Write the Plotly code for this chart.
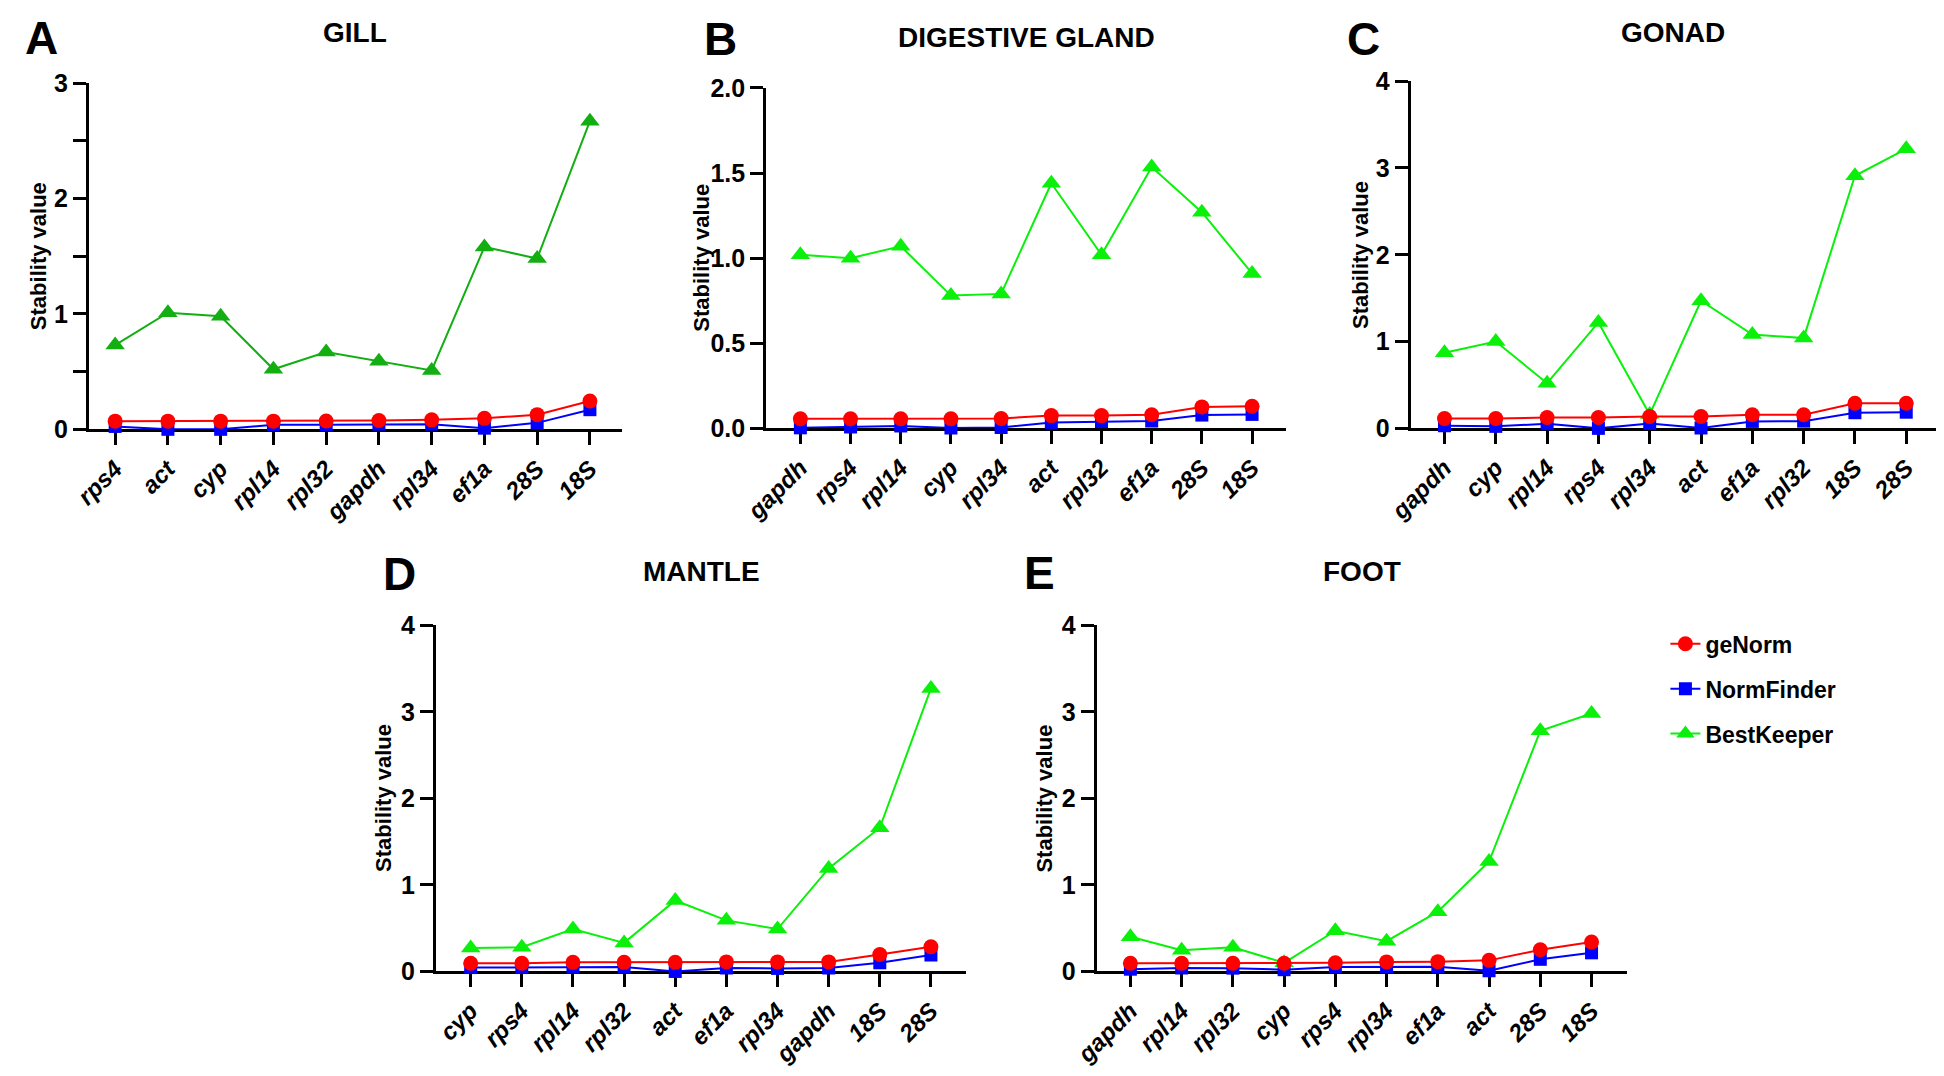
import plotly.graph_objects as go

# page is 1944x1076; the default HTML body margin (8px) offsets the figure
PAGE_W, PAGE_H = 1944, 1076
OFF = 8
W, H = PAGE_W - 2 * OFF, PAGE_H - 2 * OFF


def px2x(x):
    return min(1.0, max(0.0, (x - OFF) / W))


def px2y(y):
    return min(1.0, max(0.0, 1 - (y - OFF) / H))


# ---------------- data ----------------
gill_genes = ["rps4", "act", "cyp", "rpl14", "rpl32", "gapdh", "rpl34", "ef1a", "28S", "18S"]
gill_genorm = [0.071, 0.071, 0.071, 0.071, 0.072, 0.077, 0.082, 0.095, 0.127, 0.245]
gill_normfinder = [0.025, 0.0, 0.0, 0.04, 0.04, 0.045, 0.045, 0.01, 0.056, 0.17]
gill_bestkeeper = [0.73, 1.01, 0.98, 0.52, 0.67, 0.59, 0.51, 1.58, 1.48, 2.67]

dg_genes = ["gapdh", "rps4", "rpl14", "cyp", "rpl34", "act", "rpl32", "ef1a", "28S", "18S"]
dg_genorm = [0.056, 0.056, 0.056, 0.056, 0.058, 0.075, 0.075, 0.08, 0.126, 0.13]
dg_normfinder = [0.003, 0.008, 0.014, 0.002, 0.005, 0.035, 0.04, 0.043, 0.078, 0.082]
dg_bestkeeper = [1.02, 1.0, 1.07, 0.78, 0.79, 1.44, 1.02, 1.535, 1.27, 0.91]

gonad_genes = ["gapdh", "cyp", "rpl14", "rps4", "rpl34", "act", "ef1a", "rpl32", "18S", "28S"]
gonad_genorm = [0.114, 0.114, 0.125, 0.125, 0.137, 0.137, 0.156, 0.156, 0.29, 0.29]
gonad_normfinder = [0.03, 0.023, 0.053, 0.0, 0.057, 0.004, 0.08, 0.083, 0.18, 0.186]
gonad_bestkeeper = [0.87, 1.0, 0.52, 1.22, 0.16, 1.47, 1.08, 1.04, 2.91, 3.22]

mantle_genes = ["cyp", "rps4", "rpl14", "rpl32", "act", "ef1a", "rpl34", "gapdh", "18S", "28S"]
mantle_genorm = [0.094, 0.094, 0.105, 0.105, 0.105, 0.11, 0.11, 0.11, 0.195, 0.285]
mantle_normfinder = [0.045, 0.045, 0.05, 0.05, 0.0, 0.04, 0.035, 0.04, 0.10, 0.19]
mantle_bestkeeper = [0.27, 0.28, 0.49, 0.33, 0.82, 0.59, 0.49, 1.19, 1.66, 3.27]

foot_genes = ["gapdh", "rpl14", "rpl32", "cyp", "rps4", "rpl34", "ef1a", "act", "28S", "18S"]
foot_genorm = [0.094, 0.094, 0.094, 0.094, 0.10, 0.11, 0.113, 0.128, 0.25, 0.34]
foot_normfinder = [0.026, 0.04, 0.038, 0.02, 0.05, 0.055, 0.055, 0.008, 0.14, 0.215]
foot_bestkeeper = [0.40, 0.245, 0.28, 0.10, 0.47, 0.35, 0.69, 1.27, 2.78, 2.98]

panel_titles = ["GILL", "DIGESTIVE GLAND", "GONAD", "MANTLE", "FOOT"]
panel_letters = ["A", "B", "C", "D", "E"]
method_names = ["geNorm", "NormFinder", "BestKeeper"]
y_title = "Stability value"

# ---------------- styling / layout ----------------
RED, BLUE = "#FF0000", "#0000FF"
GREEN_DARK, GREEN = "#12AE12", "#0AF00A"
SANS = "Liberation Sans, Arial, sans-serif"

panels = [
    dict(genes=gill_genes, vals=(gill_genorm, gill_normfinder, gill_bestkeeper),
         px=(65.5, 605), py=(428, 71), xr=(-0.5, 9.6), yr=(0, 3), dtick=1, minor=0.5,
         fmt="d", green=GREEN_DARK, ytx=14, letter=(18, 24), ttl_y=19),
    dict(genes=dg_genes, vals=(dg_genorm, dg_normfinder, dg_bestkeeper),
         px=(751.5, 1278), py=(427, 76), xr=(-0.68, 9.68), yr=(0, 2), dtick=0.5, minor=None,
         fmt=".1f", green=GREEN, ytx=686, letter=(705, 26), ttl_y=24),
    dict(genes=gonad_genes, vals=(gonad_genorm, gonad_normfinder, gonad_bestkeeper),
         px=(1404, 1936), py=(427, 69), xr=(-0.66, 9.58), yr=(0, 4), dtick=1, minor=None,
         fmt="d", green=GREEN, ytx=1353, letter=(1356, 26), ttl_y=19),
    dict(genes=mantle_genes, vals=(mantle_genorm, mantle_normfinder, mantle_bestkeeper),
         px=(417, 954), py=(987, 630), xr=(-0.68, 9.69), yr=(0, 4), dtick=1, minor=None,
         fmt="d", green=GREEN, ytx=364, letter=(380, 577), ttl_y=575),
    dict(genes=foot_genes, vals=(foot_genorm, foot_normfinder, foot_bestkeeper),
         px=(1086, 1623), py=(987, 630), xr=(-0.66, 9.69), yr=(0, 4), dtick=1, minor=None,
         fmt="d", green=GREEN, ytx=1033, letter=(1028, 576), ttl_y=575),
]

fig = go.Figure()
annotations = []
layout_axes = {}

for i, p in enumerate(panels):
    n = "" if i == 0 else str(i + 1)
    xa, ya = "x" + n, "y" + n
    genorm, normfinder, bestkeeper = p["vals"]
    show = (i == 4)
    # draw order: green, blue, red (red on top)
    fig.add_trace(go.Scatter(
        x=p["genes"], y=bestkeeper, xaxis=xa, yaxis=ya, mode="lines+markers",
        name=method_names[2], legendrank=3, legendgroup="bk", showlegend=show,
        line=dict(color=p["green"], width=2),
        marker=dict(symbol="triangle-up", size=17, color=p["green"]),
        cliponaxis=False))
    fig.add_trace(go.Scatter(
        x=p["genes"], y=normfinder, xaxis=xa, yaxis=ya, mode="lines+markers",
        name=method_names[1], legendrank=2, legendgroup="nf", showlegend=show,
        line=dict(color=BLUE, width=2),
        marker=dict(symbol="square", size=13, color=BLUE),
        cliponaxis=False))
    fig.add_trace(go.Scatter(
        x=p["genes"], y=genorm, xaxis=xa, yaxis=ya, mode="lines+markers",
        name=method_names[0], legendrank=1, legendgroup="gn", showlegend=show,
        line=dict(color=RED, width=2),
        marker=dict(symbol="circle", size=15, color=RED),
        cliponaxis=False))

    x0, x1 = p["px"]
    yb, yt = p["py"]
    xdom = [px2x(x0), px2x(x1)]
    ydom = [px2y(yb), px2y(yt)]
    layout_axes["xaxis" + n] = dict(
        domain=xdom, anchor=ya, type="category", range=list(p["xr"]),
        categoryorder="array", categoryarray=p["genes"],
        showline=True, linecolor="black", linewidth=3, mirror=False,
        ticks="outside", ticklen=13, tickwidth=3, tickcolor="black",
        tickangle=-45, showgrid=False, zeroline=False, layer="below traces",
        tickfont=dict(family=SANS, size=24, color="black", weight="bold", style="italic"),
        fixedrange=True)
    yax = dict(
        domain=ydom, anchor=xa, range=list(p["yr"]), dtick=p["dtick"], tick0=0,
        tickformat=p["fmt"],
        showline=True, linecolor="black", linewidth=3,
        ticks="outside", ticklen=13, tickwidth=3, tickcolor="black",
        showgrid=False, zeroline=False, layer="below traces",
        tickfont=dict(family=SANS, size=25, color="black", weight="bold"),
        fixedrange=True)
    if p["minor"]:
        yax["minor"] = dict(dtick=p["minor"], tick0=0, ticks="outside", ticklen=13,
                            tickwidth=3, tickcolor="black", showgrid=False)
    layout_axes["yaxis" + n] = yax

    # panel title
    annotations.append(dict(
        text=panel_titles[i], x=px2x((x0 + x1) / 2), y=px2y(p["ttl_y"]),
        xref="paper", yref="paper", xanchor="center", yanchor="middle", showarrow=False,
        font=dict(family=SANS, size=28, color="black", weight="bold")))
    # panel letter
    lx, ly = p["letter"]
    annotations.append(dict(
        text=panel_letters[i], x=px2x(lx), y=px2y(ly),
        xref="paper", yref="paper", xanchor="center", yanchor="middle", showarrow=False,
        font=dict(family=SANS, size=46, color="black", weight="bold")))
    # y title
    annotations.append(dict(
        text=y_title, x=px2x(p["ytx"]), y=px2y((yb + yt) / 2),
        xref="paper", yref="paper", xanchor="center", yanchor="middle", showarrow=False,
        textangle=-90,
        font=dict(family=SANS, size=22, color="black", weight="bold")))

fig.update_layout(
    width=W, height=H, margin=dict(l=0, r=0, t=0, b=0),
    paper_bgcolor="white", plot_bgcolor="white",
    annotations=annotations,
    showlegend=True,
    legend=dict(x=px2x(1662), y=px2y(627), xanchor="left", yanchor="top",
                font=dict(family=SANS, size=23, color="black", weight="bold"),
                bgcolor="rgba(0,0,0,0)", tracegroupgap=12, itemwidth=30),
    **layout_axes)

fig.write_html("out.html", config={"staticPlot": True})
